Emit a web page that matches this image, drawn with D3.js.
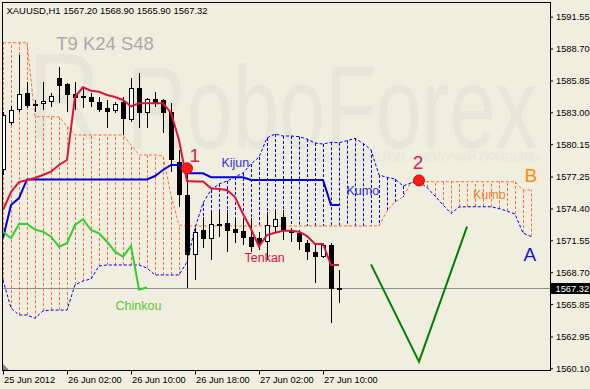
<!DOCTYPE html>
<html>
<head>
<meta charset="utf-8">
<script src="https://cdn.jsdelivr.net/npm/d3@7"></script>
<style>
  html, body { margin: 0; padding: 0; background: #F0EEDE; }
  svg { display: block; font-family: "Liberation Sans", Arial, sans-serif; }
</style>
</head>
<body>
<svg id="chart" width="590" height="389"></svg>
<script>
// XAUUSD H1, 25-27 Jun 2012, Ichimoku (9/24/48)
const symbolTitle = 'XAUUSD,H1';
const lastQuote = [1567.20, 1568.90, 1565.90, 1567.32];
const lastPrice = 1567.32;

const opens  = [1577.84,1582.07,1583.20,1584.70,1583.74,1583.71,1583.89,1586.04,1585.53,1584.61,1584.46,1584.34,1583.95,1583.36,1583.11,1583.95,1582.31,1585.15,1582.91,1584.16,1584.10,1583.07,1578.58,1575.60,1570.23,1572.47,1571.64,1573.01,1573.07,1572.53,1572.41,1571.82,1571.75,1571.40,1572.77,1573.61,1572.47,1572.17,1571.28,1570.53,1570.08,1571.13,1567.20];
const highs  = [1583.03,1583.56,1588.12,1585.71,1584.10,1585.71,1584.72,1587.02,1585.62,1585.74,1585.29,1584.72,1584.39,1584.10,1583.95,1584.39,1586.09,1586.49,1584.25,1584.84,1584.20,1583.83,1579.63,1578.29,1572.65,1573.66,1574.11,1574.11,1574.26,1573.52,1573.36,1573.52,1572.29,1574.08,1574.26,1574.26,1572.65,1572.47,1571.57,1571.13,1571.31,1571.31,1568.90];
const lows   = [1577.39,1581.86,1583.03,1583.38,1583.03,1583.20,1583.45,1583.80,1583.05,1583.20,1583.36,1583.50,1583.05,1581.57,1582.91,1580.97,1582.16,1581.57,1581.57,1583.50,1581.12,1577.66,1574.55,1567.26,1567.99,1570.83,1569.79,1571.87,1570.53,1571.28,1571.13,1570.53,1570.68,1569.79,1572.29,1571.57,1571.42,1570.68,1569.79,1567.70,1570.00,1564.18,1565.90];
const closes = [1582.76,1583.20,1584.64,1583.56,1583.56,1584.01,1584.48,1585.38,1584.55,1584.25,1584.25,1583.89,1583.20,1583.05,1583.71,1582.37,1585.20,1582.91,1584.16,1583.74,1582.96,1578.73,1575.60,1570.23,1572.32,1571.65,1573.01,1572.85,1572.41,1572.23,1571.75,1570.95,1571.22,1572.92,1573.48,1572.50,1572.17,1571.38,1570.50,1570.08,1571.10,1567.15,1567.32];

const tenkan = [1574.26,1575.87,1576.76,1576.94,1577.12,1577.39,1577.69,1578.29,1578.73,1584.39,1585.24,1584.93,1584.84,1584.55,1584.37,1584.10,1583.52,1583.80,1583.80,1583.80,1583.80,1582.94,1580.52,1576.85,1576.81,1576.81,1576.20,1576.14,1576.05,1575.42,1573.90,1572.56,1571.00,1572.02,1572.23,1572.41,1572.41,1572.32,1571.93,1571.22,1571.22,1569.34,1569.34];
const kijun  = [1571.76,1574.71,1575.33,1576.99,1576.99,1576.99,1576.99,1576.99,1576.99,1576.99,1576.99,1576.99,1576.99,1576.99,1576.99,1576.99,1576.99,1576.99,1576.99,1577.30,1577.84,1578.29,1578.29,1577.54,1577.54,1577.54,1577.19,1577.19,1577.19,1577.19,1577.19,1576.94,1576.94,1576.94,1576.94,1576.94,1576.94,1576.94,1576.94,1576.94,1576.94,1574.71,1574.71];
const chinkou = [1572.32,1571.73,1573.01,1573.01,1572.50,1572.32,1571.87,1570.98,1571.28,1572.92,1573.43,1572.47,1572.18,1571.42,1570.53,1570.08,1571.04,1567.15,1567.32];

const spanA = [1568.00,1565.49,1564.87,1564.87,1564.57,1565.23,1565.31,1565.31,1565.31,1567.55,1567.91,1568.09,1569.25,1569.34,1569.34,1569.34,1569.34,1569.34,1569.07,1568.45,1568.45,1568.45,1568.45,1569.61,1572.65,1574.89,1576.05,1576.59,1576.85,1577.21,1577.57,1578.37,1579.00,1580.70,1581.06,1580.88,1580.88,1580.82,1580.61,1580.25,1580.16,1580.32,1580.28,1580.46,1580.67,1580.23,1579.63,1577.39,1577.18,1577.03,1576.41,1576.67,1576.76,1576.27,1575.51,1574.71,1573.95,1574.53,1574.55,1574.55,1574.55,1574.55,1574.39,1574.17,1573.90,1572.20,1571.89];
const spanB = [1589.22,1589.22,1589.22,1589.22,1582.61,1582.61,1582.61,1582.58,1581.77,1580.97,1580.97,1580.97,1580.97,1580.97,1580.97,1580.97,1580.07,1579.18,1579.18,1579.18,1579.09,1575.60,1572.92,1572.83,1572.83,1572.83,1572.83,1572.83,1572.83,1572.83,1572.83,1572.83,1572.83,1572.83,1572.83,1572.83,1572.83,1572.83,1572.83,1572.83,1572.83,1572.83,1572.83,1572.83,1572.83,1572.83,1572.83,1572.83,1574.17,1574.98,1575.42,1576.72,1576.79,1576.79,1576.79,1576.79,1576.79,1576.79,1576.79,1576.79,1576.79,1576.79,1576.79,1576.79,1576.79,1576.05,1576.05];

// hand drawn forecast and signal dots: [bar, price]
const forecast = [[46, 1569.40], [52, 1560.69], [58, 1572.77]];
const signalBars = [23, 52];
const signalPrices = [1577.99, 1576.90];

const timeTicks = [0, 8, 16, 24, 32, 40];
const timeLabels = ['25 Jun 2012', '26 Jun 02:00', '26 Jun 10:00', '26 Jun 18:00', '27 Jun 02:00', '27 Jun 10:00'];
const priceTicks = [1591.55, 1588.70, 1585.85, 1583.00, 1580.15, 1577.25, 1574.40, 1571.55, 1568.70, 1565.85, 1562.95, 1560.10];

// annotations: text, bar, price, colour, size
const notes = [
  ['T9 K24 S48', 6.65, 1588.57, '#A9A9A9', 18.5],
  ['Kijun', 27.31, 1578.11, '#2F2FE6', 12.5],
  ['Kumo', 42.94, 1575.60, '#2F2FE6', 12.5],
  ['Kumo', 58.75, 1575.20, '#E8862E', 12.5],
  ['Tenkan', 30.19, 1569.58, '#DC143C', 12.5],
  ['Chinkou', 14.06, 1565.31, '#58C83A', 12.5],
  ['1', 23.31, 1578.58, '#DC2050', 19],
  ['2', 51.22, 1577.93, '#DC2050', 19],
  ['B', 65.19, 1576.79, '#FF8C00', 19],
  ['A', 65.06, 1569.72, '#1818C8', 19]
];

const svg = d3.select('#chart');
const x = d3.scaleLinear().domain([0, 66]).range([3, 531]);
const y = d3.scaleLinear().domain([1560.10, 1591.55]).range([368.3, 16.7]);
const cx = (k) => Math.round(x(k)) + 0.5;

svg.append('rect').attr('width', 590).attr('height', 389).attr('fill', '#F0EEDE');

svg.append('clipPath').attr('id', 'plot-clip')
  .append('rect').attr('x', 3).attr('y', 3).attr('width', 547).attr('height', 367);

const plot = svg.append('g').attr('clip-path', 'url(#plot-clip)');

// watermark
const mark = plot.append('g').attr('fill', '#E6E6D9');
mark.append('text').text('R').attr('x', 28).attr('y', 140)
  .attr('font-size', 125).attr('textLength', 72).attr('lengthAdjust', 'spacingAndGlyphs');
mark.append('text').text('RoboForex').attr('x', 127).attr('y', 148)
  .attr('font-size', 116).attr('textLength', 410).attr('lengthAdjust', 'spacingAndGlyphs');
mark.append('text').text('ТОРГОВЫХ РОБОТОВ – ПОЛУЧАЙ ПРИБЫЛЬ').attr('x', 277).attr('y', 162)
  .attr('font-size', 13).attr('textLength', 262).attr('lengthAdjust', 'spacingAndGlyphs')
  .attr('fill', '#E8E7DA');

// current price line
plot.append('line')
  .attr('x1', 3).attr('x2', 550).attr('y1', Math.round(y(lastPrice)) + 0.5).attr('y2', Math.round(y(lastPrice)) + 0.5)
  .attr('stroke', '#8A9096');

// kumo hatch
const orange = '#FF6E36';
const blue = '#0000FF';
plot.append('g').selectAll('line').data(spanA).join('line')
  .attr('x1', (d, i) => cx(i)).attr('x2', (d, i) => cx(i))
  .attr('y1', (d) => y(d)).attr('y2', (d, i) => y(spanB[i]))
  .attr('stroke', (d, i) => spanB[i] > d ? orange : blue)
  .attr('stroke-dasharray', '3,2');

const lineOf = d3.line().x((d, i) => x(i)).y((d) => y(d));

plot.append('path').attr('d', lineOf(spanB)).attr('fill', 'none')
  .attr('stroke', orange).attr('stroke-dasharray', '3,2');
plot.append('path').attr('d', lineOf(spanA)).attr('fill', 'none')
  .attr('stroke', blue).attr('stroke-dasharray', '3,2');

// candles
const candles = plot.append('g').attr('shape-rendering', 'crispEdges');
opens.forEach((o, k) => {
  const c = closes[k];
  const px = cx(k);
  candles.append('line').attr('x1', px).attr('x2', px)
    .attr('y1', y(highs[k])).attr('y2', y(lows[k])).attr('stroke', '#000');
  const top = Math.round(y(Math.max(o, c)));
  const bot = Math.round(y(Math.min(o, c)));
  if (bot - top < 1) {
    candles.append('line').attr('x1', px - 2.5).attr('x2', px + 2.5)
      .attr('y1', top + 0.5).attr('y2', top + 0.5).attr('stroke', '#000');
  } else if (c >= o) {
    candles.append('rect').attr('x', px - 2).attr('y', top + 0.5)
      .attr('width', 4).attr('height', bot - top - 1 < 1 ? 1 : bot - top - 1)
      .attr('fill', '#fff').attr('stroke', '#000');
  } else {
    candles.append('rect').attr('x', px - 2.5).attr('y', top)
      .attr('width', 5).attr('height', bot - top).attr('fill', '#000');
  }
});

// ichimoku lines
plot.append('path').attr('d', lineOf(kijun)).attr('fill', 'none')
  .attr('stroke', '#0000DD').attr('stroke-width', 2);
plot.append('path').attr('d', lineOf(tenkan)).attr('fill', 'none')
  .attr('stroke', '#DC143C').attr('stroke-width', 2);
plot.append('path').attr('d', lineOf(chinkou)).attr('fill', 'none')
  .attr('stroke', '#32CD32').attr('stroke-width', 2);

// forecast V
plot.append('path')
  .attr('d', d3.line().x((d) => x(d[0])).y((d) => y(d[1]))(forecast))
  .attr('fill', 'none').attr('stroke', '#008000').attr('stroke-width', 2);

// signal dots
plot.append('g').selectAll('circle').data(signalBars).join('circle')
  .attr('cx', (d) => x(d)).attr('cy', (d, i) => y(signalPrices[i]))
  .attr('r', 5.5).attr('fill', '#FF1A1A').attr('stroke', '#E00000');

// annotations
plot.append('g').selectAll('text').data(notes).join('text')
  .text((d) => d[0])
  .attr('x', (d) => x(d[1])).attr('y', (d) => y(d[2]))
  .attr('fill', (d) => d[3]).attr('font-size', (d) => d[4]);

// frame
svg.append('rect').attr('x', 2.5).attr('y', 2.5).attr('width', 548).attr('height', 368)
  .attr('fill', 'none').attr('stroke', '#000');
svg.append('path').attr('d', 'M3,364L3,370L9,370Z').attr('fill', '#7D8590');

// axes
const xAxis = d3.axisBottom(x).tickValues(timeTicks)
  .tickFormat((d, i) => timeLabels[i]).tickSize(4);
const xAxisGroup = svg.append('g').attr('transform', 'translate(0, 370.5)').call(xAxis);
xAxisGroup.select('.domain').remove();
xAxisGroup.selectAll('line').attr('stroke', '#000');
xAxisGroup.selectAll('text')
  .attr('text-anchor', 'start').attr('x', 0.5).attr('y', 6).attr('dy', '0.71em')
  .attr('fill', '#000').attr('font-size', 9.3).attr('font-family', '"Liberation Sans", Arial, sans-serif');

const yAxis = d3.axisRight(y).tickValues(priceTicks).tickFormat(d3.format('.2f')).tickSize(3).tickPadding(3);
const yAxisGroup = svg.append('g').attr('transform', 'translate(550, 0)').call(yAxis);
yAxisGroup.select('.domain').remove();
yAxisGroup.selectAll('line').attr('stroke', '#000');
yAxisGroup.selectAll('text')
  .attr('fill', '#000').attr('font-size', 9.3).attr('font-family', '"Liberation Sans", Arial, sans-serif');

// last price marker
const lastY = Math.round(y(lastPrice)) + 0.5;
svg.append('rect').attr('x', 551).attr('y', lastY - 5.5).attr('width', 39).attr('height', 11).attr('fill', '#000');
svg.append('text').text(d3.format('.2f')(lastPrice)).attr('x', 555.5).attr('y', lastY + 3.3)
  .attr('fill', '#fff').attr('font-size', 9.3);

// title
svg.append('text')
  .text(`${symbolTitle}  ${lastQuote.map(d3.format('.2f')).join(' ')}`)
  .attr('x', 6.5).attr('y', 14).attr('font-size', 9.3).attr('fill', '#000')
  .attr('textLength', 201).attr('lengthAdjust', 'spacingAndGlyphs');
</script>
</body>
</html>
